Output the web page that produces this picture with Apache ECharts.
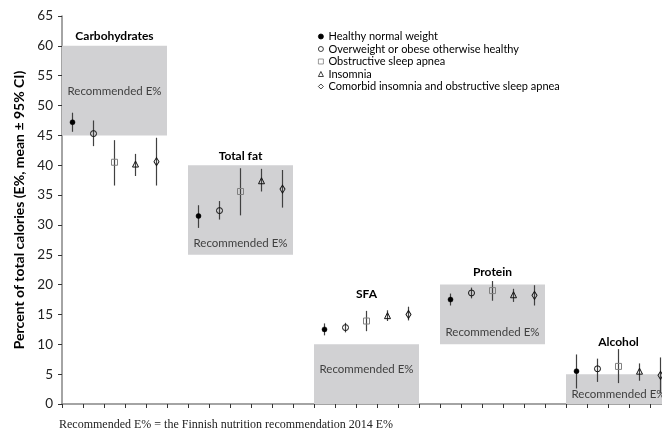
<!DOCTYPE html>
<html>
<head>
<meta charset="utf-8">
<script src="https://cdn.jsdelivr.net/npm/echarts@6/dist/echarts.min.js"></script>
<style>
  html, body { margin: 0; padding: 0; background: #fff; }
  #chart { width: 662px; height: 441px; }
</style>
</head>
<body>
<div id="chart"></div>
<script>
// Energy intake by nutrient, five study groups, mean with 95% CI (E%)
const nutrients = ['Carbohydrates', 'Total fat', 'SFA', 'Protein', 'Alcohol'];
const groups = [
  'Healthy normal weight',
  'Overweight or obese otherwise healthy',
  'Obstructive sleep apnea',
  'Insomnia',
  'Comorbid insomnia and obstructive sleep apnea'
];

// Means per group (order as in `groups`)
const carbMean = [47.2, 45.3, 40.5, 40.2, 40.6];
const carbLow  = [45.6, 43.2, 36.6, 38.2, 36.6];
const carbHigh = [48.8, 47.5, 44.2, 41.9, 44.6];

const fatMean = [31.5, 32.4, 35.6, 37.4, 36.0];
const fatLow  = [29.5, 30.9, 31.6, 35.6, 32.9];
const fatHigh = [33.3, 34.0, 39.5, 39.4, 39.2];

const sfaMean = [12.5, 12.8, 13.9, 14.8, 15.0];
const sfaLow  = [11.5, 12.0, 12.2, 13.9, 14.0];
const sfaHigh = [13.5, 13.6, 15.6, 15.7, 16.3];

const proteinMean = [17.5, 18.6, 19.0, 18.3, 18.2];
const proteinLow  = [16.5, 17.7, 17.3, 17.1, 16.5];
const proteinHigh = [18.5, 19.5, 20.6, 19.3, 19.9];

const alcoholMean = [5.5, 5.9, 6.3, 5.5, 4.8];
const alcoholLow  = [2.6, 3.7, 3.5, 3.9, 1.8];
const alcoholHigh = [8.3, 7.6, 9.2, 6.8, 7.8];

// Recommended E% ranges per nutrient
const recLow  = [45, 25, 0, 10, 0];
const recHigh = [60, 40, 10, 20, 5];

const yTicks = [0, 5, 10, 15, 20, 25, 30, 35, 40, 45, 50, 55, 60, 65];

const means = [carbMean, fatMean, sfaMean, proteinMean, alcoholMean];
const lows  = [carbLow, fatLow, sfaLow, proteinLow, alcoholLow];
const highs = [carbHigh, fatHigh, sfaHigh, proteinHigh, alcoholHigh];

// One slot per group, with one empty slot between nutrients
const slotsPer = groups.length + 1;
const categories = [];
nutrients.forEach((n, ni) => {
  groups.forEach(g => categories.push(n + ' | ' + g));
  if (ni < nutrients.length - 1) categories.push('gap ' + ni);
});
const slotOf = (ni, gi) => ni * slotsPer + gi;

// Layout of box annotations (value at which text sits)
const boxLabelAt = [52.4, 27.0, 5.8, 12.0, 1.6];
const titleAt = [61.7, 41.6, 18.4, 22.1, 10.3];

const symbols = ['circle', 'circle', 'rect', 'triangle', 'diamond'];
const symbolSizes = [5, 6, 6, 6, [5, 8]];
const fills = ['#000000', 'rgba(255,255,255,0)', 'rgba(255,255,255,0)', 'rgba(255,255,255,0)', 'rgba(255,255,255,0)'];
const borders = ['#000000', '#111111', '#808080', '#111111', '#111111'];

const FONT = 'Lato, "Open Sans", sans-serif';

const boxData = nutrients.map((n, ni) => [slotOf(ni, 0), slotOf(ni, groups.length - 1), recLow[ni], recHigh[ni], boxLabelAt[ni], titleAt[ni], ni]);

const errData = [];
nutrients.forEach((n, ni) => groups.forEach((g, gi) => {
  errData.push([slotOf(ni, gi), lows[ni][gi], highs[ni][gi]]);
}));

const scatterSeries = groups.map((g, gi) => ({
  name: g,
  type: 'scatter',
  symbol: symbols[gi],
  symbolSize: symbolSizes[gi],
  z: 5,
  itemStyle: { color: fills[gi], borderColor: borders[gi], borderWidth: gi === 0 ? 0.5 : 1, opacity: 1 },
  emphasis: { disabled: true },
  data: nutrients.map((n, ni) => [slotOf(ni, gi), means[ni][gi]])
}));

const chart = echarts.init(document.getElementById('chart'), null, { renderer: 'canvas' });
chart.setOption({
  animation: false,
  backgroundColor: '#ffffff',
  grid: { left: 62, top: 16, width: 609, height: 388, containLabel: false, outerBoundsMode: 'none' },
  legend: {
    orient: 'vertical',
    left: 313,
    top: 26,
    itemWidth: 5,
    itemHeight: 5,
    itemGap: 1.5,
    data: groups,
    itemStyle: { borderWidth: 0.8 },
    textStyle: { fontFamily: FONT, fontSize: 11, color: '#000', padding: [0, 0, 0, 0] }
  },
  xAxis: {
    type: 'category',
    data: categories,
    boundaryGap: true,
    axisLine: { lineStyle: { color: '#868686', width: 1.5 } },
    axisTick: { show: true, interval: 0, alignWithLabel: false, length: 4, lineStyle: { color: '#333' } },
    axisLabel: { show: false },
    splitLine: { show: false }
  },
  yAxis: {
    type: 'value',
    min: yTicks[0],
    max: yTicks[yTicks.length - 1],
    interval: 5,
    name: 'Percent of total calories (E%, mean ± 95% CI)',
    nameLocation: 'middle',
    nameGap: 35,
    nameTextStyle: { fontFamily: FONT, fontSize: 14, fontWeight: 'bold', color: '#000' },
    axisLine: { show: true, lineStyle: { color: '#868686', width: 1.5 } },
    axisTick: { show: true, inside: false, length: 4, lineStyle: { color: '#333' } },
    axisLabel: { fontFamily: FONT, fontSize: 13.5, color: '#222', margin: 9 },
    splitLine: { show: false }
  },
  series: [
    {
      type: 'custom',
      name: 'recommended',
      z: 1,
      silent: true,
      data: boxData,
      encode: { x: [0, 1], y: [2, 3] },
      renderItem: function (params, api) {
        const s = api.value(0), e = api.value(1);
        const lo = api.value(2), hi = api.value(3);
        const bw = api.size([1, 0])[0];
        const pTop = api.coord([s, hi]);
        const pBot = api.coord([e, lo]);
        const x0 = pTop[0] - bw / 2;
        const x1 = pBot[0] + bw / 2;
        const cx = (x0 + x1) / 2;
        const ly = api.coord([s, api.value(4)])[1];
        const ty = api.coord([s, api.value(5)])[1];
        const ni = api.value(6);
        return {
          type: 'group',
          children: [
            { type: 'rect', shape: { x: x0, y: pTop[1], width: x1 - x0, height: pBot[1] - pTop[1] },
              style: { fill: '#d1d1d3' } },
            { type: 'text', style: { x: cx, y: ly, text: 'Recommended E%', align: 'center', verticalAlign: 'middle',
              fontFamily: FONT, fontSize: 11.5, fill: '#404040' } },
            { type: 'text', style: { x: cx, y: ty, text: nutrients[ni], align: 'center', verticalAlign: 'middle',
              fontFamily: FONT, fontSize: 12, fontWeight: 'bold', fill: '#000' } }
          ]
        };
      }
    },
    {
      type: 'custom',
      name: 'ci',
      z: 3,
      silent: true,
      data: errData,
      encode: { x: 0, y: [1, 2] },
      renderItem: function (params, api) {
        const x = api.value(0);
        const a = api.coord([x, api.value(1)]);
        const b = api.coord([x, api.value(2)]);
        return { type: 'line', shape: { x1: a[0], y1: a[1], x2: b[0], y2: b[1] },
          style: { stroke: '#404040', lineWidth: 1.2 } };
      }
    }
  ].concat(scatterSeries),
  graphic: [
    { type: 'text', left: 59, top: 419,
      style: { text: 'Recommended E% = the Finnish nutrition recommendation 2014 E%',
        fontFamily: '"Liberation Serif", "DejaVu Serif", serif', fontSize: 12, fill: '#222' } }
  ]
});
</script>
</body>
</html>
